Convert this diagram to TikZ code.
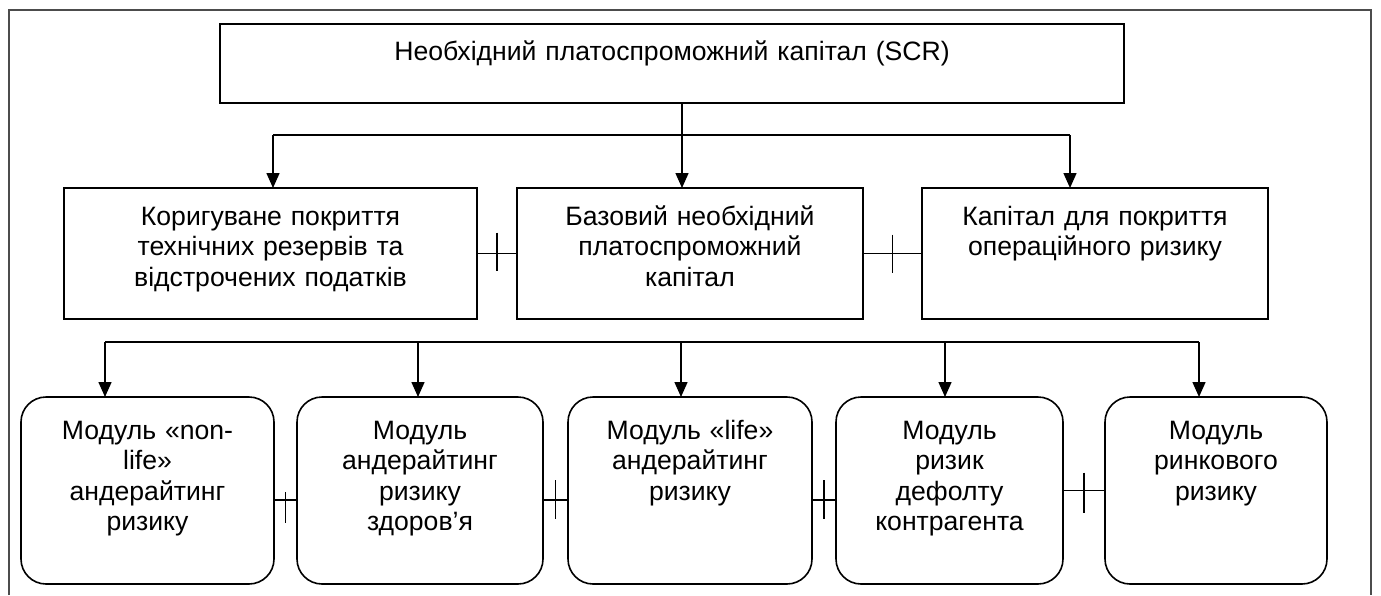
\documentclass[tikz,border=0pt]{standalone}
\usepackage{fontspec}
\setmainfont{Liberation Sans}
\usetikzlibrary{arrows.meta,calc}
\begin{document}
\begin{tikzpicture}[x=1pt,y=-1pt,
  frameline/.style={line width=1.2pt,draw=black!70},
  sqbox/.style={draw,line width=2pt,inner sep=0pt,outer sep=0pt},
  rbox/.style={draw,line width=1.6pt,rounded corners=25pt,inner sep=0pt,outer sep=0pt},
  lbl/.style={anchor=base,inner sep=0pt,align=center,font=\fontsize{26.6}{30.5}\selectfont},
  conn/.style={line width=1.5pt},
  arr/.style={conn,-{Triangle[width=13pt,length=15pt]}},
  tickmark/.style={line width=1.5pt}]
\useasboundingbox (0,0) rectangle (1381,595);
% outer frame (open at the bottom)
\draw[frameline] (9,595) -- (9,10) -- (1371,10) -- (1371,595);

% top box
\node[sqbox,minimum width=904pt,minimum height=79pt] (top) at (672,63.5) {};
\node[lbl,text width=880pt] (topt) at ([yshift=-36pt]top.north) {Необхідний платоспроможний капітал (SCR)};

% middle row
\node[sqbox,minimum width=413pt,minimum height=131pt] (m1) at (270.5,253.5) {};
\node[sqbox,minimum width=346pt,minimum height=131pt] (m2) at (690,253.5) {};
\node[sqbox,minimum width=346pt,minimum height=131pt] (m3) at (1095,253.5) {};
\node[lbl,text width=400pt] (m1t) at ([yshift=-37pt]m1.north) {Коригуване покриття\\технічних резервів та\\відстрочених податків};
\node[lbl,text width=330pt] (m2t) at ([yshift=-37pt]m2.north) {Базовий необхідний\\платоспроможний\\капітал};
\node[lbl,text width=330pt] (m3t) at ([yshift=-37pt]m3.north) {Капітал для покриття\\операційного ризику};

% bottom row
\node[rbox,minimum width=253pt,minimum height=187pt] (b1) at (147.5,490.5) {};
\node[rbox,minimum width=246pt,minimum height=187pt] (b2) at (420,490.5) {};
\node[rbox,minimum width=244pt,minimum height=187pt] (b3) at (690,490.5) {};
\node[rbox,minimum width=227pt,minimum height=187pt] (b4) at (949.5,490.5) {};
\node[rbox,minimum width=222pt,minimum height=187pt] (b5) at (1216,490.5) {};
\node[lbl,text width=240pt] (b1t) at ([yshift=-42pt]b1.north) {Модуль «non-\\life»\\андерайтинг\\ризику};
\node[lbl,text width=236pt] (b2t) at ([yshift=-42pt]b2.north) {Модуль\\андерайтинг\\ризику\\здоров’я};
\node[lbl,text width=234pt] (b3t) at ([yshift=-42pt]b3.north) {Модуль «life»\\андерайтинг\\ризику};
\node[lbl,text width=217pt] (b4t) at ([yshift=-42pt]b4.north) {Модуль\\ризик\\дефолту\\контрагента};
\node[lbl,text width=212pt] (b5t) at ([yshift=-42pt]b5.north) {Модуль\\ринкового\\ризику};

% top bus
\coordinate (tbL) at (273,135);
\coordinate (tbR) at (1070,135);
\draw[conn] (tbL) -- (tbR);
\draw[arr] (682,103) -- (682,188);
\draw[arr] (tbL) -- (tbL |- m1.north);
\draw[arr] (tbR) -- (tbR |- m3.north);

% bottom bus
\coordinate (bb1) at (105,342);
\coordinate (bb2) at (418,342);
\coordinate (bb3) at (681,342);
\coordinate (bb4) at (945,342);
\coordinate (bb5) at (1199,342);
\draw[conn] (bb1) -- (bb5);
\foreach \i in {1,...,5}{\draw[arr] (bb\i) -- (bb\i |- b\i.north);}

% middle links with ticks
\draw[conn] (m1.east) -- coordinate (mk1) (m2.west);
\draw[conn] (m2.east) -- coordinate (mk2) (m3.west);
\draw[tickmark] ([yshift=21pt]mk1) -- ([yshift=-17pt]mk1);
\draw[tickmark] ([yshift=19pt]mk2) -- ([yshift=-19pt]mk2);

% bottom links with ticks
\draw[conn] ([yshift=-9.5pt]b1.east) -- coordinate (bk1) ([yshift=-9.5pt]b2.west);
\draw[conn] ([yshift=-9.5pt]b2.east) -- coordinate (bk2) ([yshift=-9.5pt]b3.west);
\draw[conn] ([yshift=-9.5pt]b3.east) -- coordinate (bk3) ([yshift=-9.5pt]b4.west);
\draw[conn] (b4.east) -- coordinate (bk4) (b5.west);
\draw[tickmark] ([yshift=8pt]bk1) -- ([yshift=-23pt]bk1);
\draw[tickmark] ([yshift=20pt]bk2) -- ([yshift=-19pt]bk2);
\draw[tickmark] ([yshift=20pt]bk3) -- ([yshift=-19pt]bk3);
\draw[tickmark] ([yshift=18pt]bk4) -- ([yshift=-22pt]bk4);
\end{tikzpicture}
\end{document}
